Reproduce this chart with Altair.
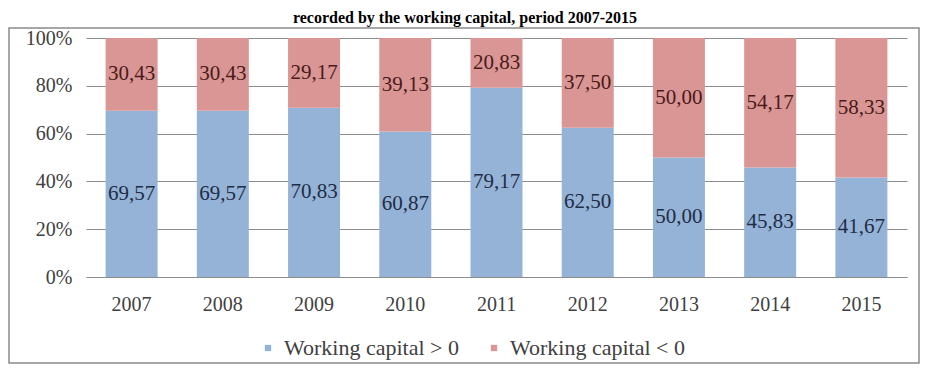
import altair as alt
import pandas as pd

years = ["2007", "2008", "2009", "2010", "2011", "2012", "2013", "2014", "2015"]
positive = [69.57, 69.57, 70.83, 60.87, 79.17, 62.50, 50.00, 45.83, 41.67]
negative = [30.43, 30.43, 29.17, 39.13, 20.83, 37.50, 50.00, 54.17, 58.33]
series_names = ["Working capital > 0", "Working capital < 0"]
series_colors = ["#95B3D7", "#D99694"]
label_colors = ["#1f2d45", "#4a1a1a"]
y_ticks = [0, 20, 40, 60, 80, 100]
title_text = "recorded by the working capital, period 2007-2015"

FONT = "Liberation Serif"
GRID = "#8c8c8c"

rows = []
for i, y in enumerate(years):
    rows.append({"year": y, "series": series_names[0], "value": positive[i], "order": 0, "tc": label_colors[0]})
    rows.append({"year": y, "series": series_names[1], "value": negative[i], "order": 1, "tc": label_colors[1]})
df = pd.DataFrame(rows)

W, H = 821, 239
TOP = 30

base = alt.Chart(df).transform_stack(
    stack="value", groupby=["year"], as_=["v0", "v1"], sort=[alt.SortField("order", order="ascending")]
).transform_calculate(
    mid="(datum.v0 + datum.v1) / 2",
    lbl="replace(format(datum.value, '.2f'), '.', ',')",
)

x_enc = alt.X(
    "year:O",
    sort=years,
    scale=alt.Scale(paddingInner=0.43, paddingOuter=0.215),
    axis=alt.Axis(
        title=None, labelAngle=0, ticks=False, tickSize=0, labelPadding=17,
        domainColor=GRID, domainWidth=1, labelFontSize=20, labelColor="#404040",
        labelFont=FONT, grid=False,
    ),
)

bars = base.mark_bar().encode(
    x=x_enc,
    y=alt.Y(
        "v0:Q",
        scale=alt.Scale(domain=[0, 100], nice=False),
        axis=alt.Axis(
            title=None, values=y_ticks, labelExpr="datum.value + '%'", grid=True,
            gridColor=GRID, gridWidth=1, domain=False, ticks=False, tickSize=0,
            labelPadding=14, labelFontSize=20, labelColor="#404040", labelFont=FONT,
        ),
    ),
    y2="v1:Q",
    color=alt.Color(
        "series:N",
        scale=alt.Scale(domain=series_names, range=series_colors),
        legend=alt.Legend(
            title=None, orient="none", legendX=171, legendY=299, direction="horizontal",
            symbolType="square", symbolSize=40, symbolStrokeWidth=0, labelFontSize=22,
            labelFont=FONT, labelColor="#404040", columnPadding=24, labelOffset=5, padding=0,
            labelLimit=400,
        ),
    ),
)

labels = base.mark_text(font=FONT, fontSize=21, baseline="middle", align="center").encode(
    x=alt.X("year:O", sort=years),
    y=alt.Y("mid:Q"),
    text="lbl:N",
    color=alt.Color("tc:N", scale=None),
)

deco = alt.Data(values=[{"k": 1}])
frame = alt.Chart(deco).mark_rect(fillOpacity=0, stroke="#8a8a8a", strokeWidth=1.5).encode(
    x=alt.value(-77), x2=alt.value(833), y=alt.value(20 - TOP), y2=alt.value(355 - TOP)
)
title = alt.Chart(deco).mark_text(
    text=title_text, font=FONT, fontSize=16, fontWeight="bold", align="center",
    baseline="alphabetic", color="#000000",
).encode(x=alt.value(379), y=alt.value(15 - TOP))

chart = alt.layer(frame, title, bars, labels).properties(
    width=W, height=H,
    autosize=alt.AutoSizeParams(type="none"),
    padding={"left": 78, "top": TOP, "right": 13, "bottom": 356 - TOP - H},
).configure(font=FONT).configure_text(font=FONT).configure_legend(
    labelFont=FONT, labelLimit=400
).configure_view(stroke=None)

chart.save("out.html", embed_options={"renderer": "svg", "actions": False})
